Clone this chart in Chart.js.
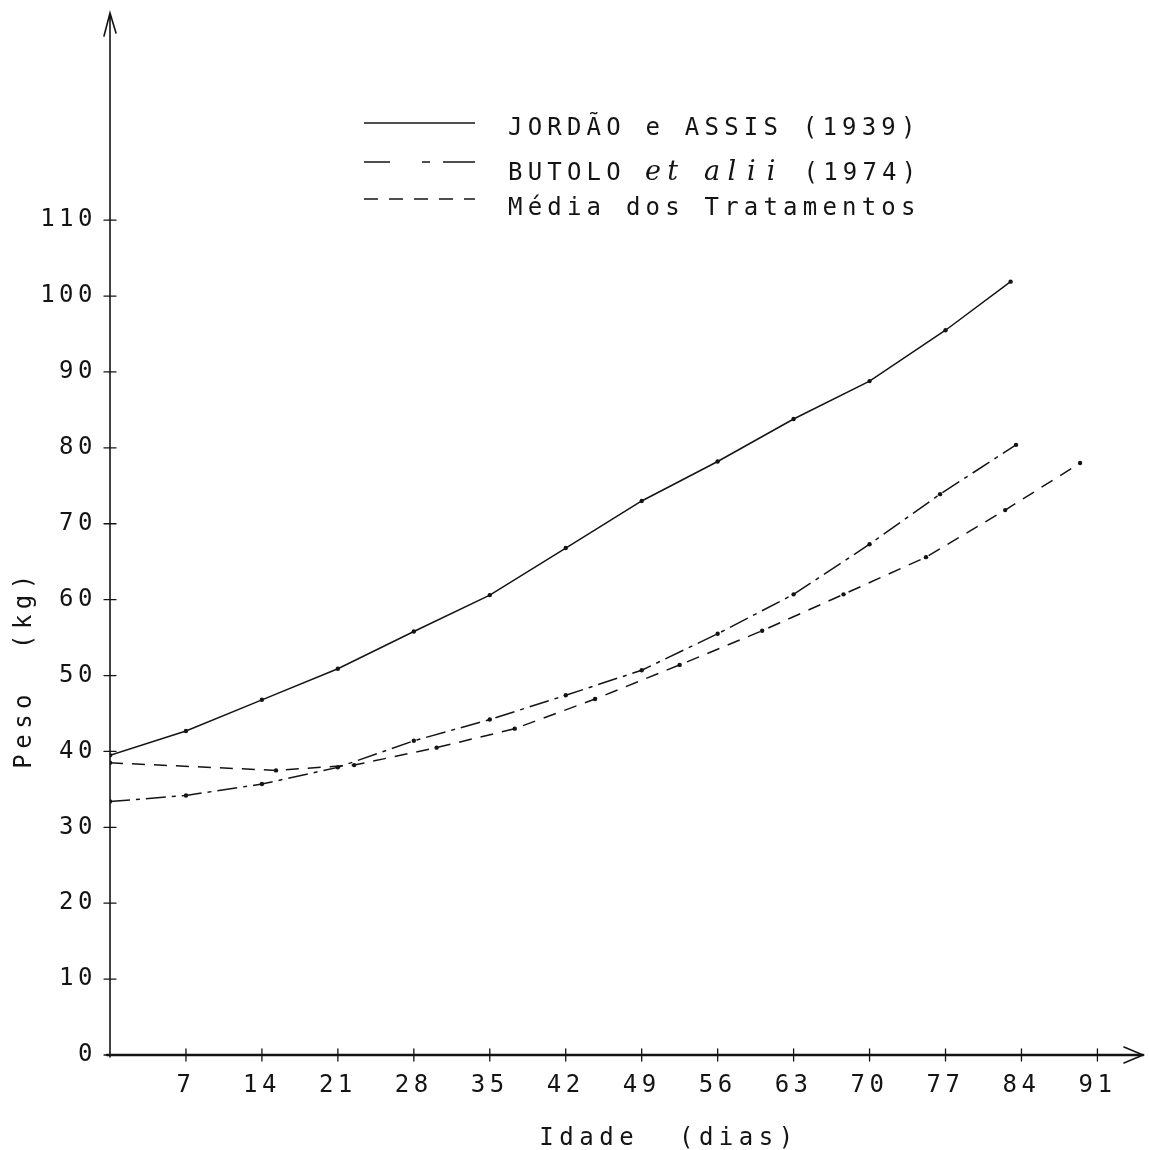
<!DOCTYPE html>
<html>
<head>
<meta charset="utf-8">
<script src="https://cdn.jsdelivr.net/npm/chart.js@4.4.1/dist/chart.umd.min.js"></script>
<style>
  html, body { margin: 0; padding: 0; background: #fff; }
  #wrap { width: 1149px; height: 1150px; position: relative; }
</style>
</head>
<body>
<div id="wrap"><canvas id="chart"></canvas></div>
<script>
// dias / peso (kg)
const jordaoDias = [0, 7, 14, 21, 28, 35, 42, 49, 56, 63, 70, 77, 83];
const jordaoPeso = [39.5, 42.7, 46.8, 50.9, 55.8, 60.6, 66.8, 73.0, 78.2, 83.8, 88.8, 95.5, 101.9];

const butoloDias = [0, 7, 14, 21, 28, 35, 42, 49, 56, 63, 70, 76.5, 83.5];
const butoloPeso = [33.4, 34.2, 35.7, 37.9, 41.4, 44.2, 47.4, 50.7, 55.5, 60.7, 67.3, 73.9, 80.4];

const mediaDias = [0, 15.3, 22.5, 30.1, 37.3, 44.7, 52.5, 60.1, 67.6, 75.2, 82.5, 89.4];
const mediaPeso = [38.5, 37.5, 38.2, 40.5, 43.0, 46.9, 51.4, 55.9, 60.7, 65.6, 71.8, 78.0];

const xTicks = [7, 14, 21, 28, 35, 42, 49, 56, 63, 70, 77, 84, 91];
const yTicks = [0, 10, 20, 30, 40, 50, 60, 70, 80, 90, 100, 110];

const INK = '#141414';
const MONO = '"DejaVu Sans Mono", "Liberation Mono", monospace';

function toPoints(xs, ys) {
  return xs.map((x, i) => ({ x: x, y: ys[i] }));
}

// axes with arrows, crossing tick marks, legend and axis titles
const paperPlugin = {
  id: 'paper',
  beforeDraw(chart) {
    chart.ctx.letterSpacing = '4.5px';
  },
  afterDraw(chart) {
    const ctx = chart.ctx;
    const xs = chart.scales.x, ys = chart.scales.y;
    const x0 = xs.getPixelForValue(0);
    const y0 = ys.getPixelForValue(0);
    const top = chart.chartArea.top, right = chart.chartArea.right;

    ctx.save();
    ctx.strokeStyle = INK;
    ctx.setLineDash([]);
    ctx.lineCap = 'round';

    // y axis
    ctx.lineWidth = 1.6;
    ctx.beginPath();
    ctx.moveTo(x0, y0 + 2);
    ctx.lineTo(x0, top);
    ctx.moveTo(x0 - 6, top + 23);
    ctx.lineTo(x0, top);
    ctx.lineTo(x0 + 6, top + 20);
    ctx.stroke();

    // x axis
    ctx.lineWidth = 2.4;
    ctx.beginPath();
    ctx.moveTo(x0 - 3, y0);
    ctx.lineTo(right, y0);
    ctx.stroke();
    ctx.lineWidth = 1.6;
    ctx.beginPath();
    ctx.moveTo(right - 19, y0 - 8);
    ctx.lineTo(right, y0);
    ctx.lineTo(right - 19, y0 + 8);
    ctx.stroke();

    // tick marks crossing the axes
    ctx.lineWidth = 1.3;
    ctx.beginPath();
    yTicks.forEach(v => {
      const p = ys.getPixelForValue(v);
      ctx.moveTo(x0 - 6, p);
      ctx.lineTo(x0 + 6, p);
    });
    xTicks.forEach(v => {
      const p = xs.getPixelForValue(v);
      ctx.moveTo(p, y0 - 6);
      ctx.lineTo(p, y0 + 6);
    });
    ctx.stroke();

    // legend
    const lx0 = 364, lx1 = 475, tx = 508, pitch = 19.7;
    const rows = [
      { y: 123, dash: [] },
      { y: 162, dash: [26, 32, 8, 13, 32, 10] },
      { y: 199, dash: [14, 11] }
    ];
    ctx.lineWidth = 1.4;
    ctx.lineCap = 'butt';
    rows.forEach(r => {
      ctx.setLineDash(r.dash);
      ctx.beginPath();
      ctx.moveTo(lx0, r.y);
      ctx.lineTo(lx1, r.y);
      ctx.stroke();
    });
    ctx.setLineDash([]);

    ctx.fillStyle = INK;
    ctx.textAlign = 'left';
    ctx.textBaseline = 'alphabetic';
    ctx.font = '24px ' + MONO;
    ctx.letterSpacing = '5.2px';
    ctx.fillText('JORDÃO e ASSIS (1939)', tx, 135);
    ctx.fillText('BUTOLO', tx, 180);
    ctx.fillText('(1974)', tx + 15 * pitch, 180);
    ctx.fillText('Média dos Tratamentos', tx, 215);
    // "et alii" in italic, one character per typewriter cell
    ctx.font = 'italic 27px "DejaVu Serif", "Liberation Serif", serif';
    ctx.letterSpacing = '0px';
    ctx.textAlign = 'center';
    'et alii'.split('').forEach((c, i) => {
      if (c !== ' ') ctx.fillText(c, tx + (7 + i) * pitch + 7, 180);
    });

    // axis titles
    ctx.font = '24px ' + MONO;
    ctx.letterSpacing = '5.5px';
    ctx.textAlign = 'center';
    ctx.fillText('Idade  (dias)', 669, 1145);
    ctx.save();
    ctx.translate(31, 669);
    ctx.rotate(-Math.PI / 2);
    ctx.fillText('Peso  (kg)', 0, 0);
    ctx.restore();

    ctx.restore();
  }
};

const lineStyle = {
  borderColor: INK,
  borderWidth: 1.5,
  pointRadius: 2.2,
  pointBorderWidth: 0,
  pointBackgroundColor: INK,
  tension: 0,
  fill: false
};

new Chart(document.getElementById('chart'), {
  type: 'line',
  data: {
    datasets: [
      { ...lineStyle, label: 'JORDÃO e ASSIS (1939)', data: toPoints(jordaoDias, jordaoPeso) },
      { ...lineStyle, label: 'BUTOLO et alii (1974)', data: toPoints(butoloDias, butoloPeso), borderDash: [20, 6, 4, 6] },
      { ...lineStyle, label: 'Média dos Tratamentos', data: toPoints(mediaDias, mediaPeso), borderDash: [13, 9] }
    ]
  },
  options: {
    responsive: true,
    maintainAspectRatio: false,
    animation: false,
    devicePixelRatio: 1,
    layout: { padding: { top: 13, right: 6, left: 0, bottom: 0 } },
    plugins: {
      legend: { display: false },
      tooltip: { enabled: false }
    },
    scales: {
      x: {
        type: 'linear',
        min: 0,
        max: 95.2,
        grid: { display: false },
        border: { display: false },
        afterBuildTicks: s => { s.ticks = xTicks.map(v => ({ value: v })); },
        afterFit: s => { s.height = 95; s.paddingLeft = 0; s.paddingRight = 0; },
        ticks: {
          padding: 8,
          autoSkip: false,
          maxRotation: 0,
          color: INK,
          font: { family: MONO, size: 24 },
          callback: v => String(v)
        }
      },
      y: {
        type: 'linear',
        min: 0,
        max: 137.3,
        grid: { display: false },
        border: { display: false },
        afterBuildTicks: s => { s.ticks = yTicks.map(v => ({ value: v })); },
        afterFit: s => { s.width = 110; s.paddingTop = 0; s.paddingBottom = 0; },
        ticks: {
          padding: 5,
          autoSkip: false,
          color: INK,
          font: { family: MONO, size: 24 },
          callback: v => String(v)
        }
      }
    }
  },
  plugins: [paperPlugin]
});
</script>
</body>
</html>
